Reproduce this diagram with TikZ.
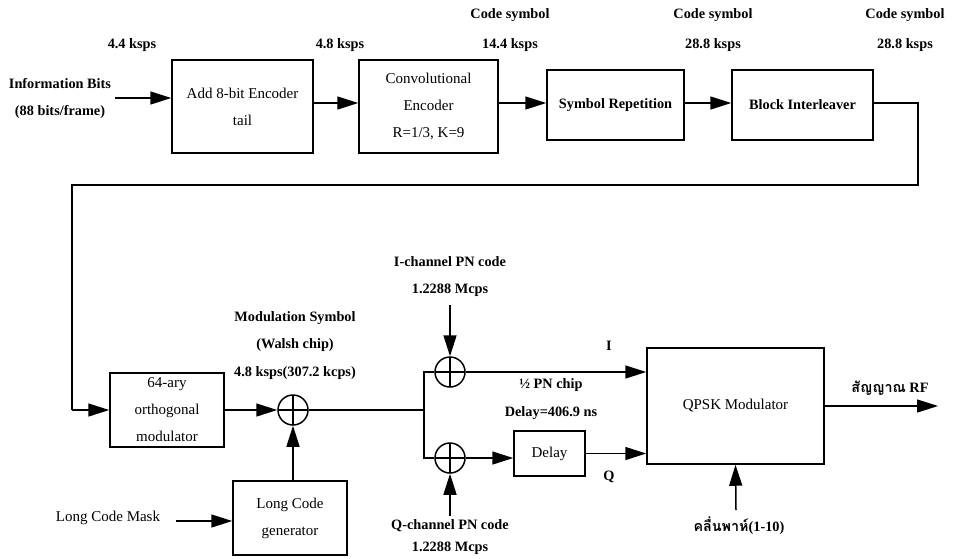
\documentclass[tikz,border=0pt]{standalone}
\usepackage{fontspec}
\setmainfont{Liberation Serif}
\newfontfamily\thaifont[Script=Thai]{Loma}
\usetikzlibrary{arrows.meta}
\begin{document}
\begin{tikzpicture}[x=1pt,y=-1pt,
  every node/.style={font=\fontsize{15}{17}\selectfont, inner sep=0pt},
  lbl/.style={font=\fontsize{14.3}{17}\selectfont\bfseries},
  blk/.style={draw, line width=1.5pt, align=center, font=\fontsize{15}{27}\selectfont},
  xorc/.style={draw, circle, line width=1.5pt, minimum size=30pt,
    path picture={\draw[line width=1.5pt] (path picture bounding box.north) -- (path picture bounding box.south)
      (path picture bounding box.west) -- (path picture bounding box.east);}},
  wire/.style={line width=1.5pt},
  arr/.style={line width=1.5pt, -{Triangle[length=21pt,width=13pt]}}]
\useasboundingbox (0,0) rectangle (956,558);
% top row boxes
\node[blk, minimum width=141pt, minimum height=93pt] (b1) at (242.5,106.5) {Add 8-bit Encoder\\tail};
\node[blk, minimum width=139pt, minimum height=93pt] (b2) at (428.5,106.5) {Convolutional\\Encoder\\R=1/3, K=9};
\node[blk, minimum width=137pt, minimum height=70pt, font=\fontsize{14.3}{17}\selectfont\bfseries] (b3) at (615.5,105) {Symbol Repetition};
\node[blk, minimum width=141pt, minimum height=70pt, font=\fontsize{14.3}{17}\selectfont\bfseries] (b4) at (802.5,105) {Block Interleaver};
% top labels
\node[lbl] (t1) at (132,45) {4.4 ksps};
\node[lbl] (t2) at (340,45) {4.8 ksps};
\node[lbl] (t3a) at (510,15) {Code symbol};
\node[lbl] (t3b) at (510,45) {14.4 ksps};
\node[lbl] (t4a) at (713,15) {Code symbol};
\node[lbl] (t4b) at (713,45) {28.8 ksps};
\node[lbl] (t5a) at (905,15) {Code symbol};
\node[lbl] (t5b) at (905,45) {28.8 ksps};
\node[lbl] (inf1) at (60,84) {Information Bits};
\node[lbl] (inf2) at (60,112) {(88 bits/frame)};
\coordinate (in) at (115,98);
\draw[arr] (in) -- (b1.west |- in);
\draw[arr] (b1.east |- 0,103) -- (b2.west |- 0,103);
\draw[arr] (b2.east |- 0,103) -- (b3.west |- 0,103);
\draw[arr] (b3.east |- 0,103) -- (b4.west |- 0,103);
% feedback
\coordinate (f1) at (918,103);
\coordinate (f2) at (918,185);
\coordinate (f3) at (72,185);
\coordinate (f4) at (72,410);
% bottom blocks
\node[blk, minimum width=114pt, minimum height=74pt] (m64) at (167,410) {64-ary\\orthogonal\\modulator};
\node[blk, minimum width=114pt, minimum height=74pt] (lc) at (290,518) {Long Code\\generator};
\node[xorc] (x1) at (293,410) {};
\node[xorc] (x2) at (450,372) {};
\node[xorc] (x3) at (450,458) {};
\node[blk, minimum width=71pt, minimum height=45pt, font=\fontsize{15}{17}\selectfont] (dl) at (549.5,453.5) {Delay};
\node[blk, minimum width=177pt, minimum height=116pt, font=\fontsize{15}{17}\selectfont] (q) at (735.5,406) {QPSK Modulator};
\draw[wire] (b4.east |- f1) -- (f1) -- (f2) -- (f3) -- (f4);
\draw[arr] (f4) -- (m64.west);
\draw[arr] (m64.east) -- (x1.west);
\draw[arr] (x1 |- lc.north) -- (x1.south);
\coordinate (lcm) at (176,521);
\draw[arr] (lcm) -- (lc.west |- lcm);
\node (lcmt) at (108,518) {Long Code Mask};
\node[lbl] (ms1) at (295,318) {Modulation Symbol};
\node[lbl] (ms2) at (295,345) {(Walsh chip)};
\node[lbl] (ms3) at (295,373) {4.8 ksps(307.2 kcps)};
% split
\coordinate (j1) at (424,410);
\coordinate (j2) at (424,372);
\coordinate (j3) at (424,458);
\draw[wire] (x1.east) -- (j1);
\draw[wire] (x2.west) -- (j2) -- (j3) -- (x3.west);
\draw[arr] (x2.east) -- (q.west |- x2.east);
\draw[arr] (x3.east) -- (dl.west |- x3.east);
\draw[arr] (dl.east) -- (q.west |- dl.east);
\coordinate (ipn) at (450,305);
\coordinate (qpn) at (450,516);
\draw[arr] (ipn) -- (x2.north);
\draw[arr] (qpn) -- (x3.south);
\node[lbl] (ip1) at (450,262) {I-channel PN code};
\node[lbl] (ip2) at (450,290) {1.2288 Mcps};
\node[lbl] (qp1) at (450,526) {Q-channel PN code};
\node[lbl] (qp2) at (450,548) {1.2288 Mcps};
\node[lbl] (il) at (609,346) {I};
\node[lbl] (ql) at (609,477) {Q};
\node[lbl] (hp1) at (551,385) {½ PN chip};
\node[lbl] (hp2) at (551,413) {Delay=406.9 ns};
\coordinate (rf) at (938,406);
\draw[arr] (q.east) -- (rf);
\node[lbl] (rft) at (890,388) {{\thaifont สัญญาณ} RF};
\coordinate (cw) at (736,510);
\draw[arr] (cw) -- (q.south);
\node[lbl] (cwt) at (739,526) {{\thaifont คลื่นพาห์}(1-10)};
\end{tikzpicture}
\end{document}
